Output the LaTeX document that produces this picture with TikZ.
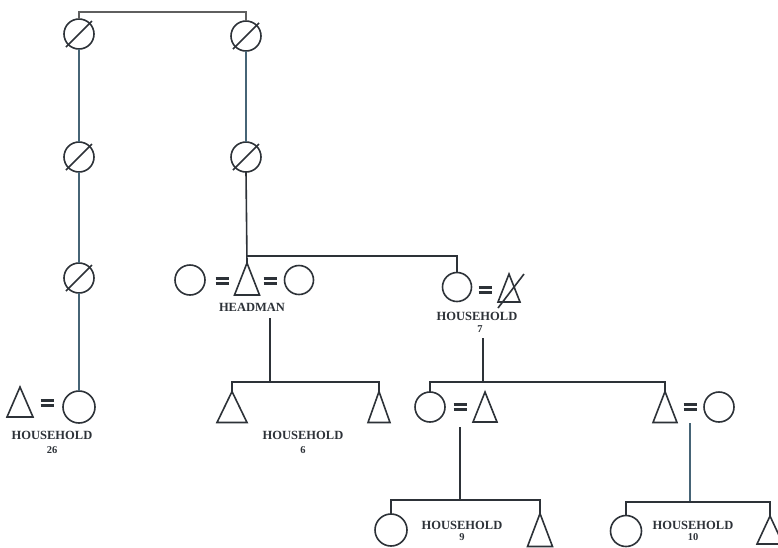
\documentclass[tikz,border=0pt]{standalone}
\usepackage{fontspec}
\setmainfont{Liberation Serif}
\usetikzlibrary{calc}
\definecolor{ink}{RGB}{45,50,56}
\definecolor{bink}{RGB}{70,100,118}
\definecolor{tink}{RGB}{95,95,95}
\tikzset{
 every node/.style={inner sep=0pt, outer sep=0pt},
 fem/.style={circle, draw=ink, line width=1.6pt, minimum size=#1},
 fem/.default=30pt,
 male/.style 2 args={rectangle, minimum width=#1, minimum height=#2,
   append after command={\pgfextra{\draw[draw=ink, line width=1.6pt, line join=miter]
   (\tikzlastnode.south west) -- (\tikzlastnode.north) -- (\tikzlastnode.south east) -- cycle;}}},
 dead/.style={fem, append after command={\pgfextra{\draw[draw=ink, line width=1.6pt]
   ($(\tikzlastnode.center)+(-13,13)$) -- ($(\tikzlastnode.center)+(13,-13)$);}}},
 eqs/.style={minimum width=13pt, minimum height=5pt,
   append after command={\pgfextra{\draw[draw=ink, line width=2.2pt]
   (\tikzlastnode.north west) -- (\tikzlastnode.north east)
   (\tikzlastnode.south west) -- (\tikzlastnode.south east);}}},
 lbl/.style={font=\fontsize{12.5}{12.5}\selectfont\bfseries, text=ink},
 num/.style={font=\fontsize{10.5}{10.5}\selectfont\bfseries, text=ink},
 conn/.style={draw=ink, line width=1.6pt},
 bconn/.style={draw=bink, line width=1.7pt},
}
\begin{document}
\begin{tikzpicture}[x=1pt,y=-1pt]
\useasboundingbox (0,0) rectangle (778,547);
\clip (0,0) rectangle (778,547);
\fill[white] (0,0) rectangle (778,547);
% coordinates of lines
\coordinate (top) at (0,12);
\coordinate (s1) at (0,256);
\coordinate (s6) at (0,382);
\coordinate (s7) at (0,382);
\coordinate (s9) at (0,500);
\coordinate (s10) at (0,502);
\coordinate (d6) at (270,318);
\coordinate (d7) at (483,338);
\coordinate (d9) at (460,427);
\coordinate (d10) at (690,423);
% left column
\node[dead] (L1) at (79,34) {};
\node[dead] (L2) at (79,157) {};
\node[dead] (L3) at (79,278) {};
\node[fem={32pt}] (L4) at (79,407) {};
% right column
\node[dead] (R1) at (246,36) {};
\node[dead] (R2) at (246,157) {};
% headman group
\node[fem] (W1) at (190,280) {};
\node[eqs] (E1) at (222,281) {};
\node[male={25pt}{32pt}] (H) at (247,279) {};
\node[eqs] (E2) at (270,281) {};
\node[fem={29pt}] (W2) at (299,280) {};
\node[lbl] (HL) at (252,307) {HEADMAN};
% household 7
\node[fem={29pt}] (F7) at (457,287) {};
\node[eqs] (E7) at (485,290) {};
\node[male={22pt}{28pt}] (M7) at (509,288) {};
\draw[conn] ($(M7.center)+(-11,20)$) -- ($(M7.center)+(15,-14)$);
\node[lbl] (H7) at (477,316) {HOUSEHOLD};
\node[num] (N7) at (480,329) {7};
% household 26
\node[male={26pt}{30pt}] (M26) at (20,402) {};
\node[eqs] (E26) at (47,403) {};
\node[lbl] (H26) at (52,435) {HOUSEHOLD};
\node[num] (N26) at (52,450) {26};
% household 6
\node[male={30pt}{31pt}] (S6a) at (232,407) {};
\node[male={22pt}{31pt}] (S6b) at (379,407) {};
\node[lbl] (H6) at (303,435) {HOUSEHOLD};
\node[num] (N6) at (303,450) {6};
% generation 3 couples
\node[fem] (F9) at (430,407) {};
\node[eqs] (E9) at (460,407) {};
\node[male={24pt}{30pt}] (M9) at (485,407) {};
\node[male={24pt}{31pt}] (M10) at (665,407) {};
\node[eqs] (E10) at (690,407) {};
\node[fem] (F10) at (719,407) {};
% household 9
\node[fem={32pt}] (C9a) at (391,530) {};
\node[male={25pt}{33pt}] (C9b) at (540,530) {};
\node[lbl] (H9) at (462,525) {HOUSEHOLD};
\node[num] (N9) at (462,537) {9};
% household 10
\node[fem={31pt}] (C10a) at (626,531) {};
\node[male={26pt}{28pt}] (C10b) at (770,530) {};
\node[lbl] (H10) at (693,525) {HOUSEHOLD};
\node[num] (N10) at (693,537) {10};
% connectors
\draw[draw=tink, line width=1.2pt] (L1.north) -- (L1.north |- top) -| (R1.north);
\draw[bconn] (L1.south) -- (L2.north);
\draw[bconn] (L2.south) -- (L3.north);
\draw[bconn] (L3.south) -- (L4.north);
\draw[bconn] (R1.south) -- (R2.north);
\draw[conn] (R2.south) -- (H.north);
\draw[conn] (H.north |- s1) -| (F7.north);
\draw[conn] (d6) -- (d6 |- s6);
\draw[conn] (S6a.north) -- (S6a.north |- s6) -- (S6b.north |- s6) -- (S6b.north);
\draw[conn] (d7) -- (d7 |- s7);
\draw[conn] (F9.north) -- (F9.north |- s7) -- (M10.north |- s7) -- (M10.north);
\draw[conn] (d9) -- (d9 |- s9);
\draw[conn] (C9a.north) -- (C9a.north |- s9) -- (C9b.north |- s9) -- (C9b.north);
\draw[bconn] (d10) -- (d10 |- s10);
\draw[conn] (C10a.north) -- (C10a.north |- s10) -- (C10b.north |- s10) -- (C10b.north);
\end{tikzpicture}
\end{document}
